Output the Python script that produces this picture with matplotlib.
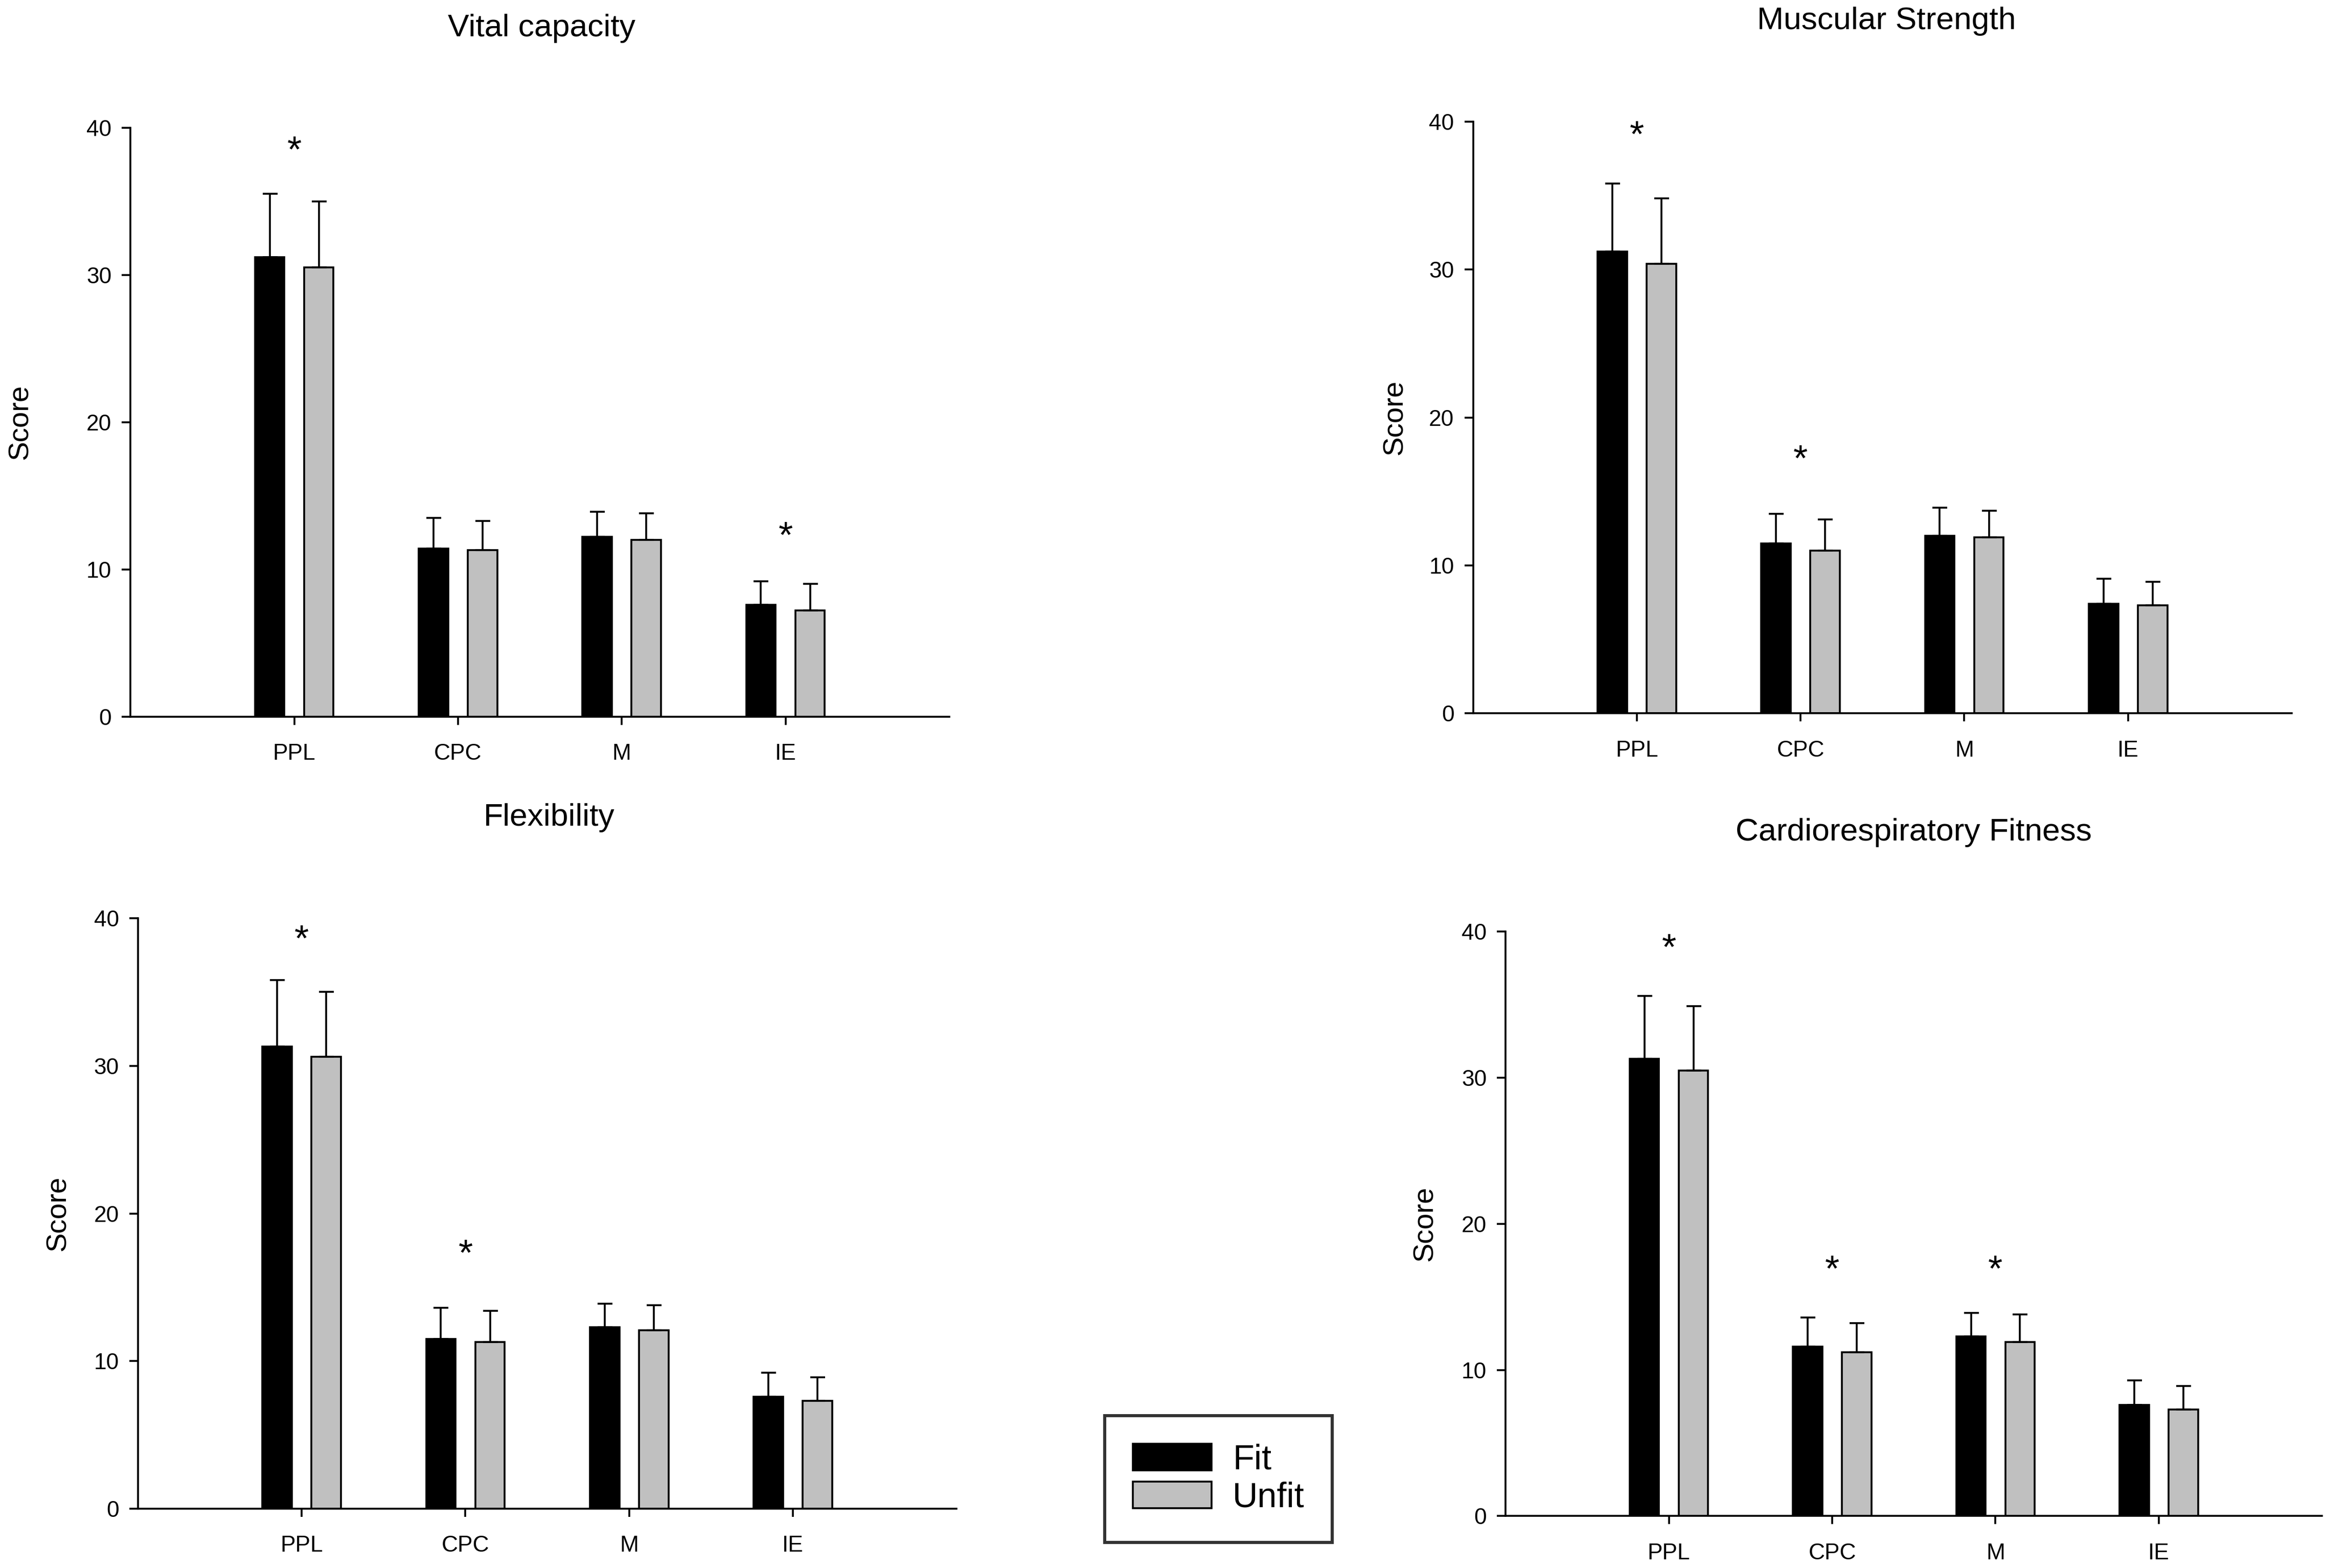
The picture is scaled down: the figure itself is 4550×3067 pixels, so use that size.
import matplotlib
matplotlib.use("Agg")
import matplotlib.pyplot as plt
import matplotlib.transforms as mtransforms
import numpy as np

plt.rcParams['font.family'] = ['Liberation Sans', 'DejaVu Sans']

categories = ["PPL", "CPC", "M", "IE"]
titles = ["Vital capacity", "Muscular Strength", "Flexibility", "Cardiorespiratory Fitness"]

fit_means = [
    [31.2, 11.4, 12.2, 7.6],
    [31.2, 11.5, 12.0, 7.4],
    [31.3, 11.5, 12.3, 7.6],
    [31.3, 11.6, 12.3, 7.6],
]
fit_err = [
    [4.3, 2.1, 1.7, 1.6],
    [4.6, 2.0, 1.9, 1.7],
    [4.5, 2.1, 1.6, 1.6],
    [4.3, 2.0, 1.6, 1.7],
]
unfit_means = [
    [30.5, 11.3, 12.0, 7.2],
    [30.4, 11.0, 11.9, 7.3],
    [30.6, 11.3, 12.1, 7.3],
    [30.5, 11.2, 11.9, 7.3],
]
unfit_err = [
    [4.5, 2.0, 1.8, 1.8],
    [4.4, 2.1, 1.8, 1.6],
    [4.4, 2.1, 1.7, 1.6],
    [4.4, 2.0, 1.9, 1.6],
]
# significance markers: (category index, height)
stars = [
    [(0, 38.9), (3, 12.7)],
    [(0, 39.5), (1, 17.6)],
    [(0, 39.0), (1, 17.7)],
    [(0, 39.3), (1, 17.3), (2, 17.3)],
]

W, H = 4550, 3067
dpi = 290
fig = plt.figure(figsize=(W / dpi, H / dpi), dpi=dpi)

# axes rectangles (left, bottom, width, height) in figure fractions
rects = [
    (0.0561, 0.543, 0.352, 0.3756),
    (0.6333, 0.545, 0.352, 0.3775),
    (0.0593, 0.0378, 0.352, 0.3766),
    (0.6473, 0.0331, 0.351, 0.3728),
]
title_pos = [(0.2328, 0.982), (0.811, 0.9866), (0.236, 0.4786), (0.8227, 0.4691)]
ylabel_x = [-0.118, -0.079, -0.081, -0.082]

x = np.arange(len(categories))
bw = 0.18
off = 0.15
lw = 0.9

handles = None
for i in range(4):
    ax = fig.add_axes(rects[i])
    b1 = ax.bar(x - off, fit_means[i], bw, color='black', edgecolor='black', linewidth=lw,
                yerr=[np.zeros(4), fit_err[i]], capsize=3.6,
                error_kw=dict(ecolor='black', elinewidth=lw, capthick=lw), label='Fit', zorder=2)
    b2 = ax.bar(x + off, unfit_means[i], bw, color='#c0c0c0', edgecolor='black', linewidth=lw,
                yerr=[np.zeros(4), unfit_err[i]], capsize=3.6,
                error_kw=dict(ecolor='black', elinewidth=lw, capthick=lw), label='Unfit', zorder=2)
    if handles is None:
        handles = [b1, b2]
    ax.set_xlim(-1, 4)
    ax.set_ylim(0, 40)
    ax.set_yticks([0, 10, 20, 30, 40])
    ax.set_xticks(x)
    ax.set_xticklabels(categories)
    for s in ['top', 'right']:
        ax.spines[s].set_visible(False)
    for s in ['left', 'bottom']:
        ax.spines[s].set_linewidth(lw)
    ax.tick_params(axis='y', direction='out', length=4.2, width=lw, pad=5, labelsize=11)
    ax.tick_params(axis='x', direction='out', length=4.0, width=lw, pad=9, labelsize=11)
    ax.set_ylabel('Score', fontsize=14)
    ax.yaxis.set_label_coords(ylabel_x[i], 0.5)
    fs = 18
    tr = mtransforms.offset_copy(ax.transData, fig=fig, x=0, y=-0.48 * fs, units='points')
    for ci, yv in stars[i]:
        ax.text(x[ci], yv, '*', ha='center', va='baseline', fontsize=fs, transform=tr)
    fig.text(title_pos[i][0], title_pos[i][1], titles[i], ha='center', va='center', fontsize=15.5)

leg = fig.legend(handles, ['Fit', 'Unfit'], loc='center', bbox_to_anchor=(0.5239, 0.0568),
                 fontsize=17, frameon=True, fancybox=False, edgecolor='black',
                 handlelength=2.25, handleheight=0.8, handletextpad=0.6,
                 labelspacing=0.15, borderpad=0.8, borderaxespad=0)
leg.get_frame().set_linewidth(1.5)

fig.savefig('out.png', dpi=dpi)
